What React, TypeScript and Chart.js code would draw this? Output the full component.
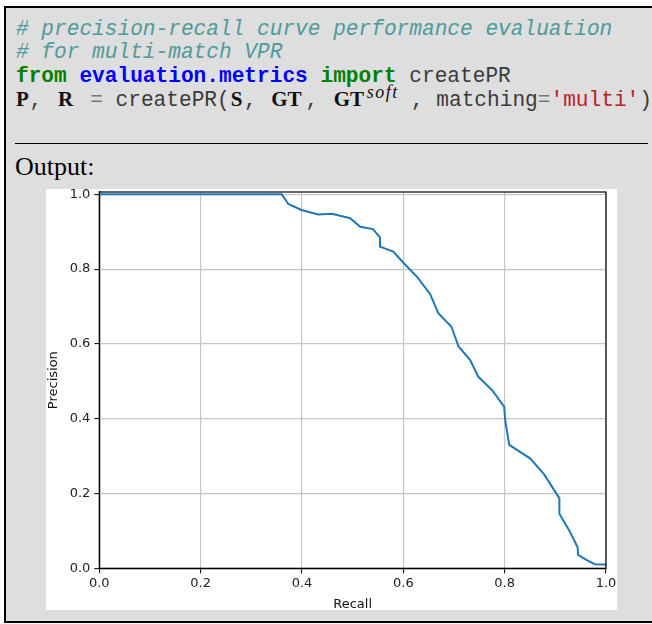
import React, { useEffect, useRef } from "react";
import { Chart, registerables } from "chart.js";

Chart.register(...registerables);

// ---- data ----
const recall = [0, 0.36, 0.373, 0.399, 0.432, 0.459, 0.495, 0.515, 0.54, 0.554, 0.554, 0.58, 0.603, 0.628, 0.653, 0.669, 0.695, 0.709, 0.732, 0.748, 0.776, 0.799, 0.801, 0.809, 0.85, 0.878, 0.908, 0.908, 0.928, 0.944, 0.945, 0.962, 0.978, 0.998, 1.0];
const precision = [1.0, 1.0, 0.974, 0.958, 0.946, 0.948, 0.936, 0.913, 0.907, 0.885, 0.86, 0.847, 0.813, 0.778, 0.733, 0.682, 0.646, 0.593, 0.557, 0.512, 0.475, 0.432, 0.397, 0.33, 0.294, 0.251, 0.187, 0.146, 0.1, 0.056, 0.036, 0.022, 0.011, 0.01, 0.008];
const xTicks = [0, 0.2, 0.4, 0.6, 0.8, 1.0];
const yTicks = [0, 0.2, 0.4, 0.6, 0.8, 1.0];
const xLabel = "Recall";
const yLabel = "Precision";

const spines = {
  id: "spines",
  afterDraw(chart: any) {
    const { ctx, chartArea: a } = chart;
    ctx.save();
    ctx.strokeStyle = "#000";
    ctx.lineWidth = 1.2;
    ctx.strokeRect(a.left, a.top, a.right - a.left, a.bottom - a.top);
    ctx.restore();
  },
};

const mono = "'Liberation Mono', 'DejaVu Sans Mono', monospace";
const serif = "'Liberation Serif', 'DejaVu Serif', serif";
const FS = 21.15;
const LH = 23.7;

function PRChart() {
  const ref = useRef<HTMLCanvasElement>(null);
  useEffect(() => {
    const tickFont = { family: "'DejaVu Sans', sans-serif", size: 13 };
    const chart = new Chart(ref.current!, {
      type: "line",
      data: {
        datasets: [
          {
            data: recall.map((r, i) => ({ x: r, y: precision[i] })),
            borderColor: "#1f77b4",
            borderWidth: 2,
            pointRadius: 0,
            tension: 0,
            fill: false,
          },
        ],
      },
      plugins: [spines],
      options: {
        animation: false,
        responsive: false,
        maintainAspectRatio: false,
        layout: { padding: { top: 13, right: 34, left: 0, bottom: 0 } },
        plugins: { legend: { display: false }, tooltip: { enabled: false } },
        scales: {
          x: {
            type: "linear",
            min: 0,
            max: 1,
            afterBuildTicks: (a: any) => {
              a.ticks = xTicks.map((v) => ({ value: v }));
            },
            afterFit: (s: any) => {
              s.height = 41.7;
            },
            ticks: {
              callback: (v: any) => Number(v).toFixed(1),
              font: tickFont,
              color: "#222",
              padding: 3,
              maxRotation: 0,
              autoSkip: false,
            },
            grid: { color: "#c6c6c6", lineWidth: 1.2, tickColor: "#000", tickLength: 5, tickWidth: 1 },
            border: { color: "#000", width: 1.2 },
            title: {
              display: true,
              text: xLabel,
              color: "#111",
              font: { family: "'DejaVu Sans', sans-serif", size: 13, lineHeight: 0.86 },
              padding: 0,
            },
          },
          y: {
            type: "linear",
            min: 0,
            max: 1.00615,
            afterBuildTicks: (a: any) => {
              a.ticks = yTicks.map((v) => ({ value: v }));
            },
            afterFit: (s: any) => {
              s.width = 53.3;
            },
            ticks: {
              callback: (v: any) => Number(v).toFixed(1),
              font: tickFont,
              color: "#222",
              padding: 4,
              autoSkip: false,
            },
            grid: { color: "#c6c6c6", lineWidth: 1.2, tickColor: "#000", tickLength: 5, tickWidth: 1 },
            border: { color: "#000", width: 1.2 },
            title: {
              display: true,
              text: yLabel,
              color: "#111",
              font: { family: "'DejaVu Sans', sans-serif", size: 13, lineHeight: 1.2 },
              padding: 0,
            },
          },
        },
      },
    } as any);
    return () => chart.destroy();
  }, []);
  return (
    <canvas
      ref={ref}
      width={594}
      height={431}
      style={{ position: "absolute", left: 46, top: 179, width: 594, height: 431 }}
    />
  );
}

const lineStyle = (top: number): React.CSSProperties => ({
  position: "absolute",
  left: 16,
  top,
  fontFamily: mono,
  fontSize: FS,
  lineHeight: `${LH}px`,
  whiteSpace: "pre",
  color: "#3a3a3a",
});

const mathBox = (w: number, pl = 0): React.CSSProperties => ({
  display: "inline-block",
  width: w,
  paddingLeft: pl,
  boxSizing: "border-box",
  fontFamily: serif,
  fontWeight: "bold",
  fontSize: 21,
  lineHeight: "0",
  color: "#111",
  textAlign: "left",
  whiteSpace: "nowrap",
});

export default function App() {
  const comment: React.CSSProperties = { color: "#4f9a9a", fontStyle: "italic" };
  const kw: React.CSSProperties = { color: "#008000", fontWeight: "bold" };
  const ns: React.CSSProperties = { color: "#0000ff", fontWeight: "bold" };
  const op: React.CSSProperties = { color: "#777" };
  const str: React.CSSProperties = { color: "#ba2121" };
  return (
    <div
      style={{
        position: "absolute",
        left: 0,
        top: 0,
        width: 652,
        height: 624,
        background: "#fff",
        overflow: "hidden",
      }}
    >
      <div
        style={{
          position: "absolute",
          left: 4,
          top: 6,
          width: 700,
          height: 617,
          boxSizing: "border-box",
          border: "2px solid #000",
          background: "#dedede",
        }}
      />
      <div style={{ ...lineStyle(17.5), ...comment }}>{"# precision-recall curve performance evaluation"}</div>
      <div style={{ ...lineStyle(17.5 + LH), ...comment }}>{"# for multi-match VPR"}</div>
      <div style={lineStyle(17.5 + 2 * LH)}>
        <span style={kw}>from</span> <span style={ns}>evaluation.metrics</span> <span style={kw}>import</span>
        {" createPR"}
      </div>
      <div style={lineStyle(17.5 + 3 * LH)}>
        <span style={mathBox(13.5)}>P</span>
        {", "}
        <span style={mathBox(22.6, 3)}>R</span>
        {" "}
        <span style={op}>=</span>
        {" createPR("}
        <span style={mathBox(14.2, 1)}>S</span>
        {", "}
        <span style={mathBox(36.1, 2)}>GT</span>
        {", "}
        <span style={mathBox(36, 3)}>GT</span>
        <span
          style={{
            display: "inline-block",
            width: 44.2,
            paddingLeft: 0,
            boxSizing: "border-box",
            fontFamily: serif,
            fontStyle: "italic",
            fontSize: 18,
            letterSpacing: 1.5,
            lineHeight: "0",
            position: "relative",
            top: -8,
            color: "#111",
            whiteSpace: "nowrap",
          }}
        >
          soft
        </span>
        {", matching"}
        <span style={op}>=</span>
        <span style={str}>'multi'</span>
        {")"}
      </div>
      <div
        style={{
          position: "absolute",
          left: 15,
          top: 143,
          width: 633,
          height: 1,
          background: "#000",
        }}
      />
      <div
        style={{
          position: "absolute",
          left: 15,
          top: 154.2,
          fontFamily: serif,
          fontSize: 26,
          lineHeight: "26px",
          color: "#000",
          whiteSpace: "pre",
        }}
      >
        Output:
      </div>
      <div
        style={{
          position: "absolute",
          left: 46,
          top: 189,
          width: 571,
          height: 421,
          background: "#fff",
        }}
      />
      <PRChart />
    </div>
  );
}
